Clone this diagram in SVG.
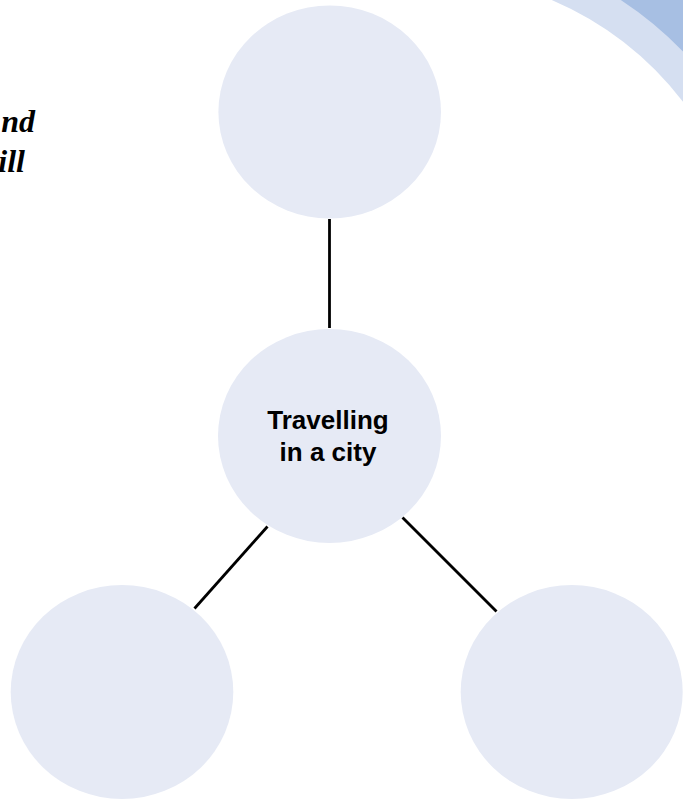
<svg xmlns="http://www.w3.org/2000/svg" width="683" height="800" viewBox="0 0 683 800">
  <style>
    .node { fill: #e6eaf5; }
    .link { stroke: #000; stroke-width: 2.8; fill: none; }
    .label { font-family: "Liberation Sans", Arial, sans-serif; font-weight: bold; font-size: 26px; fill: #000; text-anchor: middle; }
    .intro { font-family: "Liberation Serif", "Times New Roman", serif; font-weight: bold; font-style: italic; font-size: 32px; fill: #000; text-anchor: end; }
  </style>

  <rect width="683" height="800" fill="#ffffff"/>

  <!-- corner decoration: two concentric bands -->
  <g id="corner">
    <path d="M551.7,0 A329.2,329.2 0 0 1 683,101.7 L683,0 Z" fill="#d5dff1"/>
    <path d="M620.8,0 A362,362 0 0 1 683,51.5 L683,0 Z" fill="#a7bfe3"/>
  </g>

  <!-- partly visible intro text at the left edge -->
  <g id="intro">
    <text class="intro" x="35" y="132">nd</text>
    <text class="intro" x="25" y="172">ill</text>
  </g>

  <!-- connectors -->
  <g id="connectors">
    <line class="link" x1="329.5" y1="219" x2="329.5" y2="328"/>
    <line class="link" x1="267.5" y1="526.5" x2="194.5" y2="608.5"/>
    <line class="link" x1="402.5" y1="517.5" x2="496.5" y2="611.5"/>
  </g>

  <g id="node-top">
    <ellipse class="node" cx="329.7" cy="112" rx="111.3" ry="106.5"/>
  </g>

  <g id="node-center">
    <ellipse class="node" cx="329.5" cy="436" rx="111.5" ry="107"/>
    <text class="label" x="328" y="429">Travelling</text>
    <text class="label" x="328" y="461">in a city</text>
  </g>

  <g id="node-left">
    <ellipse class="node" cx="122" cy="692" rx="111.3" ry="107"/>
  </g>

  <g id="node-right">
    <ellipse class="node" cx="571.7" cy="692" rx="111" ry="107"/>
  </g>
</svg>
